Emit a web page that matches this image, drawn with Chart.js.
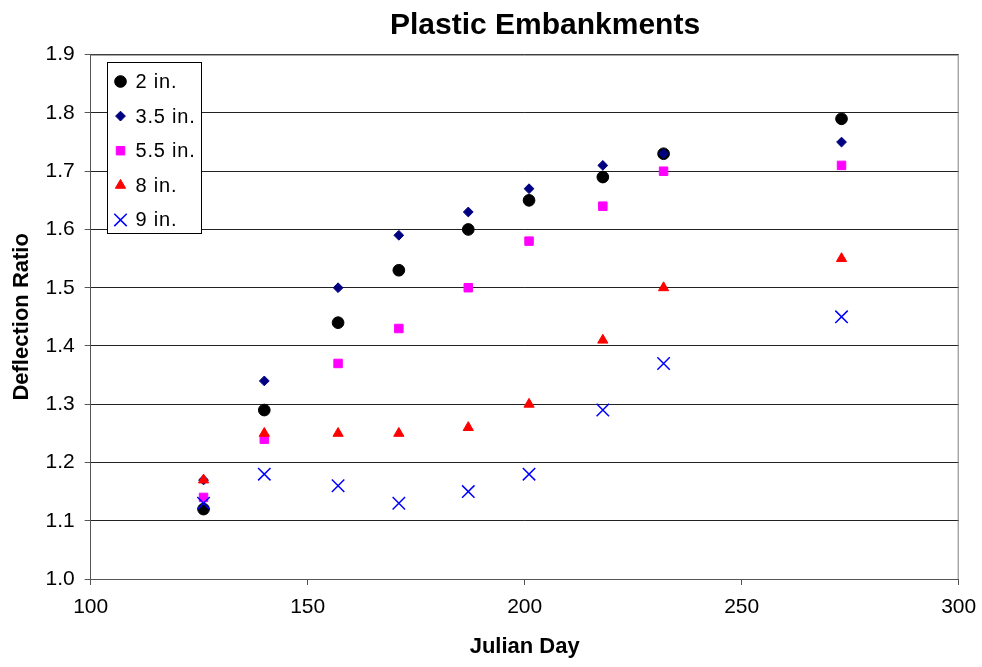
<!DOCTYPE html>
<html>
<head>
<meta charset="utf-8">
<title>Plastic Embankments</title>
<script src="https://cdn.jsdelivr.net/npm/chart.js@4.4.1/dist/chart.umd.min.js"></script>
<style>
  html, body { margin: 0; padding: 0; background: #fff; }
  #wrap { width: 982px; height: 667px; position: relative; }
</style>
</head>
<body>
<div id="wrap"><canvas id="grafico"></canvas></div>
<script>
// Julian day of each survey
const days = [126, 140, 157, 171, 187, 201, 218, 232, 273];

// deflection ratio at each depth
const depth2 = [1.12, 1.29, 1.44, 1.53, 1.60, 1.65, 1.69, 1.73, 1.79];
const depth35 = [1.17, 1.34, 1.50, 1.59, 1.63, 1.67, 1.71, 1.73, 1.75];
const depth55 = [1.14, 1.24, 1.37, 1.43, 1.50, 1.58, 1.64, 1.70, 1.71];
const depth8 = [1.17, 1.25, 1.25, 1.25, 1.26, 1.30, 1.41, 1.50, 1.55];
const depth9 = [1.13, 1.18, 1.16, 1.13, 1.15, 1.18, 1.29, 1.37, 1.45];

const seriesNames = ['2 in.', '3.5 in.', '5.5 in.', '8 in.', '9 in.'];

const FONT = "'Liberation Sans', Arial, sans-serif";

function points(values) {
    return days.map((d, i) => ({ x: d, y: values[i] }));
}

// title, frame and boxed legend drawn on top of the chart
const decorations = {
    id: 'decorations',
    beforeDatasetsDraw(chart) {
        const { ctx, chartArea: a } = chart;
        ctx.save();
        // top and right edges of the plot area
        ctx.strokeStyle = '#808080';
        ctx.lineWidth = 1;
        ctx.beginPath();
        ctx.moveTo(a.left, a.top + 0.5);
        ctx.lineTo(a.right - 0.5, a.top + 0.5);
        ctx.lineTo(a.right - 0.5, a.bottom);
        ctx.stroke();
        ctx.restore();
    },
    afterDraw(chart) {
        const { ctx, chartArea: a } = chart;
        ctx.save();

        ctx.fillStyle = '#000';
        ctx.font = 'bold 30px ' + FONT;
        ctx.textAlign = 'center';
        ctx.textBaseline = 'alphabetic';
        ctx.fillText('Plastic Embankments', 545, 34);

        // legend box
        const bx = Math.round(a.left + 16) + 0.5;
        const by = Math.round(a.top + 7) + 0.5;
        const bw = 94, bh = 171;
        ctx.fillStyle = '#fff';
        ctx.fillRect(bx, by, bw, bh);
        ctx.strokeStyle = '#000';
        ctx.lineWidth = 1;
        ctx.strokeRect(bx, by, bw, bh);

        ctx.font = '20px ' + FONT;
        ctx.letterSpacing = '0.8px';
        ctx.textAlign = 'left';
        ctx.textBaseline = 'middle';
        chart.data.datasets.forEach((ds, i) => {
            const y = by + 19 + i * 34.6;
            const x = bx + 13;
            ctx.fillStyle = ds.backgroundColor;
            ctx.strokeStyle = ds.borderColor;
            ctx.lineWidth = ds.borderWidth;
            Chart.helpers.drawPoint(ctx, {
                pointStyle: ds.pointStyle,
                radius: ds.pointRadius,
                borderWidth: ds.borderWidth,
                rotation: 0
            }, x, y);
            ctx.fillStyle = '#000';
            ctx.fillText(ds.label, bx + 28, y + 1);
        });
        ctx.restore();
    }
};

let chart;

document.addEventListener("DOMContentLoaded", () => {
    const ctx = document.getElementById("grafico").getContext("2d");

    chart = new Chart(ctx, {
        type: 'scatter',
        data: {
            datasets: [
                { label: seriesNames[0], data: points(depth2), pointStyle: 'circle', pointRadius: 5.85,
                  backgroundColor: '#000000', borderColor: '#000000', borderWidth: 1, order: 4 },
                { label: seriesNames[1], data: points(depth35), pointStyle: 'rectRot', pointRadius: 4.9,
                  backgroundColor: '#000080', borderColor: '#000080', borderWidth: 1, order: 3 },
                { label: seriesNames[2], data: points(depth55), pointStyle: 'rect', pointRadius: 6,
                  backgroundColor: '#FF00FF', borderColor: '#FF00FF', borderWidth: 1, order: 2 },
                { label: seriesNames[3], data: points(depth8), pointStyle: 'triangle', pointRadius: 5.9,
                  backgroundColor: '#FF0000', borderColor: '#FF0000', borderWidth: 1, order: 1 },
                { label: seriesNames[4], data: points(depth9), pointStyle: 'crossRot', pointRadius: 8.8,
                  backgroundColor: '#0000FF', borderColor: '#0000FF', borderWidth: 1.5, order: 0 }
            ]
        },
        options: {
            responsive: true,
            maintainAspectRatio: false,
            animation: false,
            events: [],
            layout: { padding: { left: 0, right: 23.3, top: 54.7, bottom: 0 } },
            plugins: {
                legend: { display: false },
                tooltip: { enabled: false }
            },
            scales: {
                x: {
                    type: 'linear',
                    min: 100,
                    max: 300,
                    // fixed axis band, no extra room for the end labels
                    afterFit: (s) => { s.height = 88; s.paddingLeft = 0; s.paddingRight = 0; },
                    ticks: { stepSize: 50, color: '#000', padding: 10, font: { family: FONT, size: 21 } },
                    grid: { drawOnChartArea: false, tickLength: 6, color: '#555', tickColor: '#555' },
                    border: { color: '#555', width: 1 },
                    title: { display: true, text: 'Julian Day', color: '#000',
                             font: { family: FONT, size: 22, weight: 'bold' }, padding: { top: 0, bottom: 6.8 } }
                },
                y: {
                    min: 1.0,
                    max: 1.9,
                    afterFit: (s) => { s.width = 90.7; s.paddingTop = 0; s.paddingBottom = 0; },
                    ticks: { stepSize: 0.1, color: '#000', padding: 10, font: { family: FONT, size: 21 },
                             callback: (v) => v.toFixed(1) },
                    grid: { color: '#222', lineWidth: 1, tickLength: 6, tickColor: '#555' },
                    border: { color: '#555', width: 1 },
                    title: { display: true, text: 'Deflection Ratio', color: '#000',
                             font: { family: FONT, size: 22, weight: 'bold' }, padding: { top: 8.8, bottom: 0 } }
                }
            }
        },
        plugins: [decorations]
    });
});
</script>
</body>
</html>
